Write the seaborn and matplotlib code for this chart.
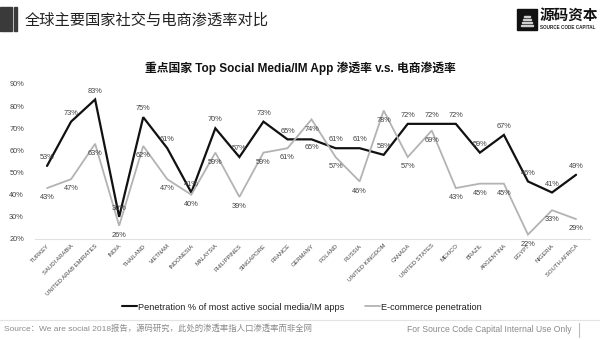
import matplotlib
matplotlib.use("Agg")
import matplotlib.pyplot as plt
import seaborn as sns
import pandas as pd
from matplotlib.patches import Rectangle
from matplotlib.lines import Line2D

countries = ["TURKEY", "SAUDI ARABIA", "UNITED ARAB EMIRATES", "INDIA", "THAILAND",
             "VIETNAM", "INDONESIA", "MALAYSIA", "PHILIPPINES", "SINGAPORE", "FRANCE",
             "GERMANY", "POLAND", "RUSSIA", "UNITED KINGDOM", "CANADA", "UNITED STATES",
             "MEXICO", "BRAZIL", "ARGENTINA", "EGYPT", "NIGERIA", "SOUTH AFRICA"]
social = [53, 73, 83, 30, 75, 61, 41, 70, 57, 73, 65, 65, 61, 61, 58, 72, 72, 72, 59, 67, 46, 41, 49]
ecommerce = [43, 47, 63, 26, 62, 47, 40, 59, 39, 59, 61, 74, 57, 46, 78, 57, 69, 43, 45, 45, 22, 33, 29]
yticks = [20, 30, 40, 50, 60, 70, 80, 90]
social_name = "Penetration % of most active social media/IM apps"
ecom_name = "E-commerce penetration"

# label side for social labels (1 = above, -1 = below)
social_side = [1] * len(countries)
social_side[countries.index("GERMANY")] = -1

sns.set_theme(style="white")
plt.rcParams['font.family'] = ['Liberation Sans', 'Noto Sans CJK SC', 'DejaVu Sans']

W, H = 600, 340
fig = plt.figure(figsize=(6, 3.4), dpi=100)
fig.patch.set_facecolor("white")

def fx(px):
    return px / W

def fy(py):
    return 1 - py / H

ax = fig.add_axes([fx(35), fy(239), fx(590) - fx(35), fy(84) - fy(239)])

idx = list(range(len(countries)))
df = pd.DataFrame({
    "x": idx * 2,
    "value": social + ecommerce,
    "series": [social_name] * len(countries) + [ecom_name] * len(countries),
})
sns.lineplot(data=df, x="x", y="value", hue="series",
             palette={social_name: "#111111", ecom_name: "#b3b3b3"},
             sort=False, ax=ax, legend=False, linewidth=1.5)
for ln, lw in zip(ax.lines, [1.6, 1.3]):
    ln.set_linewidth(lw)
    ln.set_solid_joinstyle("miter")

lab_color = "#404040"
for i, (s, e) in enumerate(zip(social, ecommerce)):
    side = social_side[i]
    ax.annotate(f"{s}%", (i, s), xytext=(0, 6 * side), textcoords="offset points",
                ha="center", va="center", fontsize=5.3, color=lab_color)
    ax.annotate(f"{e}%", (i, e), xytext=(0, -7), textcoords="offset points",
                ha="center", va="center", fontsize=5.3, color=lab_color)

ax.set_xlim(-0.5, 22.58)
ax.set_ylim(20, 90)
ax.set_yticks(yticks)
ax.set_yticklabels([f"{v}%" for v in yticks], fontsize=5.3, color="#444444")
ax.set_xticks(idx)
ax.set_xticklabels(countries, rotation=45, ha="right", rotation_mode="anchor",
                   fontsize=4.2, color="#444444")
ax.tick_params(axis="both", length=0, pad=3)
ax.tick_params(axis="y", pad=8)
ax.set_xlabel("")
ax.set_ylabel("")
for sp in ["left", "right", "top"]:
    ax.spines[sp].set_visible(False)
ax.spines["bottom"].set_color("#e0e0e0")
ax.spines["bottom"].set_linewidth(0.8)
ax.patch.set_alpha(0)

# header
fig.patches.append(Rectangle((fx(0), fy(31)), fx(12), fy(7) - fy(31),
                             transform=fig.transFigure, color="#3a3a3a"))
fig.patches.append(Rectangle((fx(14), fy(31)), fx(3), fy(7) - fy(31),
                             transform=fig.transFigure, color="#3a3a3a"))
fig.text(fx(25), fy(20), "全球主要国家社交与电商渗透率对比", fontsize=11,
         color="#222222", va="center", ha="left")

# logo
fig.patches.append(Rectangle((fx(517), fy(30)), fx(20), fy(9) - fy(30),
                             transform=fig.transFigure, color="#111111"))
for k in range(4):
    fig.patches.append(Rectangle((fx(521 + k), fy(26 - 3 * k)), fx(12 - 2 * k), fy(0) - fy(1),
                                 transform=fig.transFigure, color="#cfcfcf"))
fig.text(fx(540), fy(16), "源码资本", fontsize=10.5, fontweight="bold",
         color="#111111", va="center", ha="left")
fig.text(fx(540), fy(27.5), "SOURCE CODE CAPITAL", fontsize=3.3, fontweight="bold",
         color="#222222", va="center", ha="left")

# chart title
fig.text(0.5, fy(68), "重点国家 Top Social Media/IM App 渗透率 v.s. 电商渗透率",
         fontsize=8.5, fontweight="bold", color="#111111", ha="center", va="center")

# legend
handles = [Line2D([0], [0], color="#111111", lw=1.5),
           Line2D([0], [0], color="#b3b3b3", lw=1.3)]
fig.legend(handles, [social_name, ecom_name], loc="center",
           bbox_to_anchor=(fx(302), fy(307)), ncol=2, frameon=False,
           fontsize=6.6, handlelength=1.6, handletextpad=0.2, columnspacing=2.2,
           labelcolor="#222222")

# footer
fig.add_artist(Line2D([0, 1], [fy(320), fy(320)], transform=fig.transFigure,
                      color="#e3e3e3", lw=0.8))
fig.text(fx(4), fy(329), "Source：We are social 2018报告，源码研究，此处的渗透率指人口渗透率而非全网",
         fontsize=6, color="#8a8a8a", ha="left", va="center")
fig.text(fx(572), fy(329), "For Source Code Capital Internal Use Only",
         fontsize=6.2, color="#8a8a8a", ha="right", va="center")
fig.add_artist(Line2D([fx(579), fx(579)], [fy(323), fy(337)], transform=fig.transFigure,
                      color="#bbbbbb", lw=0.8))

fig.savefig("out.png", dpi=100, facecolor="white")
